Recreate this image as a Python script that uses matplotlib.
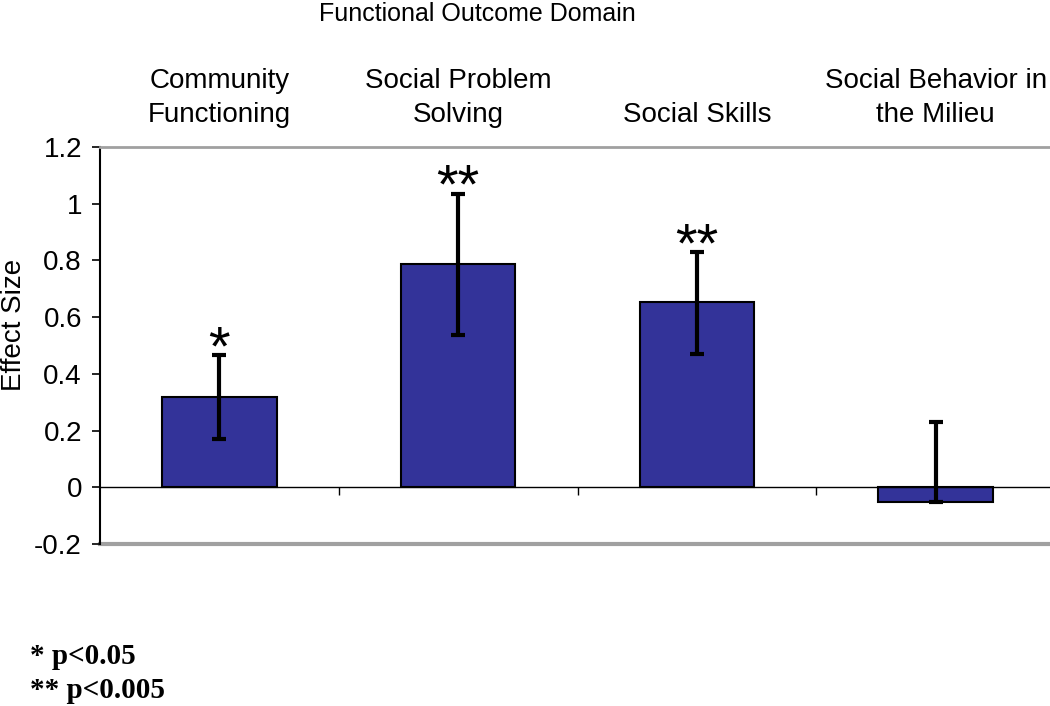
import matplotlib
matplotlib.use("Agg")
import matplotlib.pyplot as plt
import matplotlib.transforms as mtransforms
from matplotlib.ticker import FixedLocator, FuncFormatter
import numpy as np

plt.rcParams['font.family'] = ['Liberation Sans', 'DejaVu Sans']
plt.rcParams['axes.unicode_minus'] = False

# data
domains = ['Community\nFunctioning', 'Social Problem\nSolving', 'Social Skills',
           'Social Behavior in\nthe Milieu']
effect = [0.317, 0.786, 0.653, -0.053]
err_low = [0.147, 0.25, 0.183, 0.0]
err_high = [0.148, 0.25, 0.177, 0.282]
stars = ['*', '**', '**', '']
yticks = [-0.2, 0, 0.2, 0.4, 0.6, 0.8, 1, 1.2]

fig = plt.figure(figsize=(10.5, 7.06), dpi=100)
ax = fig.add_axes([100/1050, 1-544/706, 955/1050, (544-147)/706])

x = np.arange(len(domains))
ax.bar(x, effect, width=0.48, color='#333399', edgecolor='black', linewidth=1.5, zorder=2)
ax.errorbar(x, effect, yerr=[err_low, err_high], fmt='none', ecolor='black',
            elinewidth=3, capsize=5, capthick=3, zorder=3)

# significance marks above the error bars
for xi, v, e, s in zip(x, effect, err_high, stars):
    if s:
        ax.annotate(s, (xi, v + e), xytext=(0, -6.5), textcoords='offset points',
                    ha='center', va='baseline', fontsize=40)

ax.set_xlim(-0.5, len(domains) - 0.5)
ax.set_ylim(-0.2, 1.2)

# zero line carries the category boundary ticks
ax.spines['bottom'].set_position(('data', 0))
ax.spines['bottom'].set_color('black')
ax.spines['bottom'].set_linewidth(1)
ax.spines['right'].set_visible(False)
ax.spines['top'].set_color('#a0a0a0')
ax.spines['top'].set_linewidth(2)
ax.spines['left'].set_linewidth(1.5)
ax.axhline(-0.2, color='#a0a0a0', lw=3, clip_on=False, zorder=1)

ax.xaxis.set_major_locator(FixedLocator(x))
ax.xaxis.set_minor_locator(FixedLocator(x[:-1] + 0.5))
ax.tick_params(axis='x', which='major', length=0, labelbottom=False)
ax.tick_params(axis='x', which='minor', direction='out', length=6, width=1)

ax.yaxis.set_major_locator(FixedLocator(yticks))
ax.yaxis.set_major_formatter(FuncFormatter(lambda v, p: '%g' % round(v, 1)))
ax.tick_params(axis='y', direction='out', length=6, width=1.2, pad=7, labelsize=20)

# category labels above the plot
trans = mtransforms.blended_transform_factory(ax.transData, ax.transAxes)
for xi, lab in zip(x, domains):
    ax.text(xi, 1.048, lab, transform=trans, ha='center', va='bottom',
            fontsize=20, linespacing=1.38)

fig.text(477/1050, 1-14/706, 'Functional Outcome Domain', ha='center', va='center', fontsize=18)
fig.text(14/1050, 1-325/706, 'Effect Size', rotation=90, ha='center', va='center', fontsize=20)

fig.text(30/1050, 1-657/706, '* p<0.05', family='Liberation Serif', weight='bold',
         fontsize=21, va='center')
fig.text(30/1050, 1-690/706, '** p<0.005', family='Liberation Serif', weight='bold',
         fontsize=21, va='center')

fig.savefig('out.png', dpi=100)
